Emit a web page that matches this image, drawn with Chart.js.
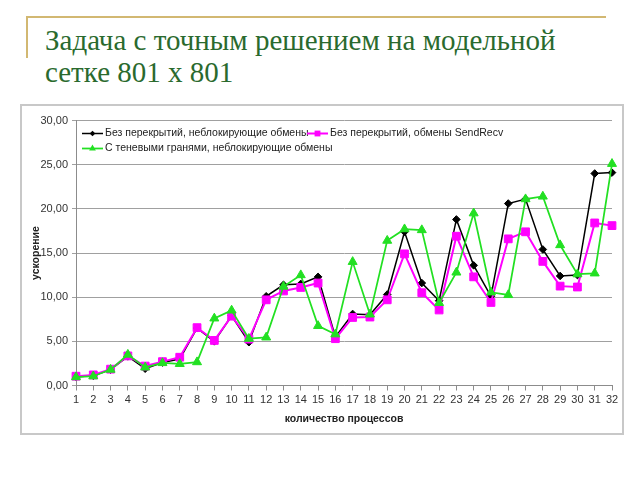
<!DOCTYPE html>
<html lang="ru">
<head>
    <meta charset="UTF-8">
    <title>Задача с точным решением на модельной сетке 801 х 801</title>
    <script src="https://cdn.jsdelivr.net/npm/chart.js@4.4.0/dist/chart.umd.min.js"></script>
    <style>
        body {
            margin: 0;
            width: 640px;
            height: 480px;
            position: relative;
            overflow: hidden;
            background: #ffffff;
        }

        .deco-h {
            position: absolute;
            left: 26px;
            top: 16px;
            width: 580px;
            height: 2px;
            background: #d2b872;
        }

        .deco-v {
            position: absolute;
            left: 26px;
            top: 16px;
            width: 2px;
            height: 42px;
            background: #d2b872;
        }

        h1 {
            position: absolute;
            left: 45px;
            top: 24px;
            margin: 0;
            font: normal 29px "Liberation Serif", serif;
            line-height: 32px;
            color: #2a6a2e;
            white-space: nowrap;
        }

        .frame {
            position: absolute;
            left: 20px;
            top: 104px;
            width: 600px;
            height: 327px;
            border: 2px solid #c8c8c8;
        }

        canvas {
            display: block;
        }
    </style>
</head>
<body>
    <div class="deco-h"></div>
    <div class="deco-v"></div>
    <h1>Задача с точным решением на модельной<br>сетке 801 х 801</h1>

    <div class="frame">
        <canvas id="chartCanvas" width="600" height="327"></canvas>
    </div>

    <script>
        // number of processes
        const categories = ['1', '2', '3', '4', '5', '6', '7', '8', '9', '10', '11', '12', '13', '14', '15', '16',
            '17', '18', '19', '20', '21', '22', '23', '24', '25', '26', '27', '28', '29', '30', '31', '32'];

        // speedup, no overlap, non-blocking exchanges
        const noOverlapNonBlocking = [1.0, 1.1, 1.8, 3.3, 1.9, 2.6, 3.0, 6.5, 5.0, 7.9, 4.9, 10.1, 11.4, 11.5, 12.3, 5.5,
            8.1, 8.0, 10.3, 17.4, 11.6, 9.6, 18.8, 13.6, 10.1, 20.6, 21.1, 15.4, 12.4, 12.5, 24.0, 24.1];

        // speedup, no overlap, SendRecv exchanges
        const noOverlapSendRecv = [1.05, 1.2, 1.85, 3.35, 2.2, 2.7, 3.2, 6.55, 5.1, 7.85, 5.25, 9.7, 10.7, 11.1, 11.6, 5.3,
            7.7, 7.75, 9.7, 14.9, 10.5, 8.55, 16.9, 12.3, 9.4, 16.6, 17.4, 14.05, 11.25, 11.15, 18.4, 18.1];

        // speedup, ghost cells, non-blocking exchanges
        const ghostNonBlocking = [0.95, 1.05, 1.8, 3.5, 2.05, 2.55, 2.45, 2.65, 7.6, 8.5, 5.3, 5.45, 11.2, 12.5, 6.75, 5.8,
            14.0, 8.05, 16.4, 17.7, 17.6, 9.35, 12.8, 19.5, 10.55, 10.25, 21.1, 21.4, 15.9, 12.6, 12.7, 25.1];

        const yTicks = [0, 5, 10, 15, 20, 25, 30];

        const seriesLabels = [
            'Без перекрытий, неблокирующие обмены',
            'Без перекрытий, обмены SendRecv',
            'С теневыми гранями, неблокирующие обмены'
        ];

        const baseFont = '"Liberation Sans", Arial, sans-serif';

        // legend drawn inside the plot, Excel style (line + marker)
        const insideLegend = {
            id: 'insideLegend',
            afterDraw(chart) {
                const ctx = chart.ctx;
                const a = chart.chartArea;
                const spots = [[a.left + 6, a.top + 13], [a.left + 231, a.top + 13], [a.left + 6, a.top + 28]];
                chart.data.datasets.forEach((ds, i) => {
                    const [x, y] = spots[i];
                    ctx.save();
                    ctx.strokeStyle = ds.borderColor;
                    ctx.lineWidth = ds.borderWidth;
                    ctx.beginPath();
                    ctx.moveTo(x, y);
                    ctx.lineTo(x + 21, y);
                    ctx.stroke();
                    ctx.fillStyle = ds.backgroundColor;
                    Chart.helpers.drawPoint(ctx, {
                        pointStyle: ds.pointStyle,
                        radius: ds.pointRadius * 0.75,
                        rotation: 0,
                        borderWidth: 0
                    }, x + 10.5, y);
                    ctx.fillStyle = '#222';
                    ctx.font = '10.5px ' + baseFont;
                    ctx.textBaseline = 'middle';
                    ctx.textAlign = 'left';
                    ctx.fillText(ds.label, x + 23, y);
                    ctx.restore();
                });
            }
        };

        const ctx = document.getElementById('chartCanvas').getContext('2d');
        new Chart(ctx, {
            type: 'line',
            data: {
                labels: categories,
                datasets: [
                    {
                        label: seriesLabels[0],
                        data: noOverlapNonBlocking,
                        borderColor: '#000000',
                        backgroundColor: '#000000',
                        borderWidth: 1.5,
                        pointStyle: 'rectRot',
                        pointRadius: 3.8,
                        pointBorderWidth: 1,
                        order: 3
                    },
                    {
                        label: seriesLabels[1],
                        data: noOverlapSendRecv,
                        borderColor: '#ff00ff',
                        backgroundColor: '#ff00ff',
                        borderWidth: 2,
                        pointStyle: 'rect',
                        pointRadius: 5.5,
                        pointBorderWidth: 1,
                        order: 2
                    },
                    {
                        label: seriesLabels[2],
                        data: ghostNonBlocking,
                        borderColor: '#22e022',
                        backgroundColor: '#22e022',
                        borderWidth: 1.75,
                        pointStyle: 'triangle',
                        pointRadius: 5.2,
                        pointBorderWidth: 1,
                        order: 1
                    }
                ]
            },
            options: {
                responsive: false,
                animation: false,
                devicePixelRatio: 1,
                layout: {
                    padding: { top: 14.5, right: 10, bottom: 0, left: 0 }
                },
                plugins: {
                    legend: { display: false },
                    tooltip: { enabled: false }
                },
                scales: {
                    x: {
                        offset: false,
                        grid: {
                            display: true,
                            drawOnChartArea: false,
                            drawTicks: true,
                            tickLength: 5,
                            color: '#8c8c8c'
                        },
                        border: { color: '#8c8c8c', width: 1 },
                        ticks: {
                            color: '#333333',
                            font: { family: baseFont, size: 11 },
                            padding: 3,
                            maxRotation: 0,
                            autoSkip: false
                        },
                        title: {
                            display: true,
                            text: 'количество процессов',
                            color: '#222222',
                            font: { family: baseFont, size: 10.5, weight: 'bold' },
                            padding: { top: 0, bottom: 8 }
                        },
                        afterFit(scale) {
                            scale.height = 47.5;
                        }
                    },
                    y: {
                        min: 0,
                        max: 30,
                        afterBuildTicks(scale) {
                            scale.ticks = yTicks.map(v => ({ value: v }));
                        },
                        grid: {
                            color: '#a0a0a0',
                            lineWidth: 1,
                            tickLength: 4
                        },
                        border: { color: '#8c8c8c', width: 1 },
                        ticks: {
                            color: '#333333',
                            font: { family: baseFont, size: 11 },
                            padding: 4,
                            callback: v => v.toFixed(2).replace('.', ',')
                        },
                        title: {
                            display: true,
                            text: 'ускорение',
                            color: '#222222',
                            font: { family: baseFont, size: 10.5, weight: 'bold' },
                            padding: { top: 8, bottom: 0 }
                        },
                        afterFit(scale) {
                            scale.width = 54;
                        }
                    }
                }
            },
            plugins: [insideLegend]
        });
    </script>
</body>
</html>
